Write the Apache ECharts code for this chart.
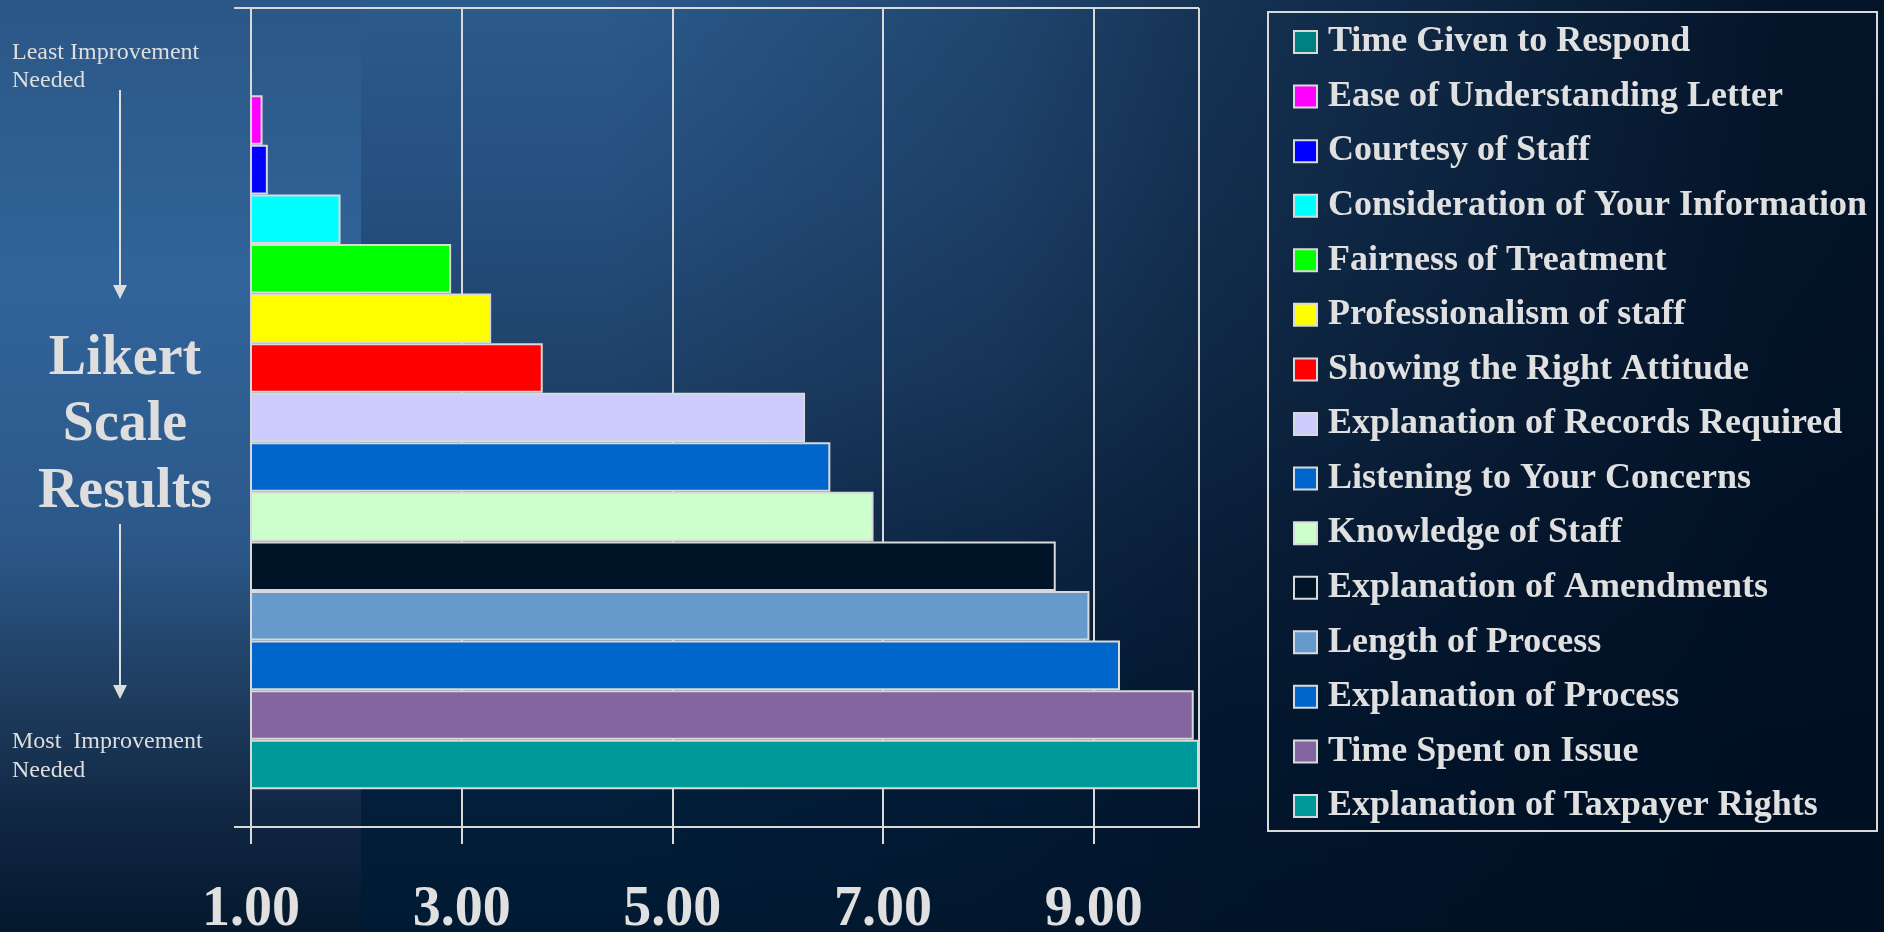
<!DOCTYPE html>
<html>
<head>
<meta charset="utf-8">
<title>Likert Scale Results</title>
<script src="https://cdn.jsdelivr.net/npm/echarts@6/dist/echarts.min.js"></script>
<style>
  html, body { margin: 0; padding: 0; width: 1884px; height: 932px; overflow: hidden; }
  #bg {
    position: absolute; left: 0; top: 0; width: 1884px; height: 932px;
    background:
      linear-gradient(90deg, rgba(0,14,32,0) 0%, rgba(0,14,32,0) 32%, rgba(0,14,32,0.26) 53%, rgba(0,14,32,0.51) 64%, rgba(0,14,32,0.9) 94%, rgba(0,14,32,0.92) 100%),
      linear-gradient(180deg, #2b5a8b 0%, #26507f 20%, #1e426a 40%, #112d4f 60%, #03203d 80%, #011a33 100%);
  }
  #panel {
    position: absolute; left: 0; top: 0; width: 361px; height: 932px;
    background: linear-gradient(180deg, #2b5786 0%, #31649a 30%, #2c5889 58%, #1e3c5e 75%, #0f2540 89%, #04182e 100%);
  }
  #chart { position: absolute; left: 0; top: 0; width: 1884px; height: 932px; }
</style>
</head>
<body>
<div id="bg"></div>
<div id="panel"></div>
<div id="chart"></div>
<script>
// Survey items, listed from least to most improvement needed
const categories = [
  'Time Given to Respond',
  'Ease of Understanding Letter',
  'Courtesy of Staff',
  'Consideration of Your Information',
  'Fairness of Treatment',
  'Professionalism of staff',
  'Showing the Right Attitude',
  'Explanation of Records Required',
  'Listening to Your Concerns',
  'Knowledge of Staff',
  'Explanation of Amendments',
  'Length of Process',
  'Explanation of Process',
  'Time Spent on Issue',
  'Explanation of Taxpayer Rights'
];

// Likert scale score for each item
const scores = [1.00, 1.11, 1.16, 1.85, 2.90, 3.28, 3.77, 6.26, 6.50, 6.91, 8.64, 8.96, 9.25, 9.95, 10.00];

const barColors = [
  '#008080', '#ff00ff', '#0000ff', '#00ffff', '#00ff00',
  '#ffff00', '#ff0000', '#ccccff', '#0066cc', '#ccffcc',
  '#001428', '#6699cc', '#0066cc', '#8465a0', '#009999'
];

const xTickValues = [1, 3, 5, 7, 9];
const xTickLabels = ['1.00', '3.00', '5.00', '7.00', '9.00'];

const lineColor = '#d9d9d9';
const textColor = '#e0e0e0';
const serif = '"Liberation Serif", "Times New Roman", serif';

const chart = echarts.init(document.getElementById('chart'), null, { renderer: 'canvas' });

const series = categories.map((name, i) => ({
  name: name,
  type: 'bar',
  data: [scores[i]],
  barGap: '0%',
  barCategoryGap: '9.2%',
  silent: true,
  itemStyle: { color: barColors[i], borderColor: lineColor, borderWidth: 2 }
}));

function sideText(x, y, text, size, weight, align) {
  return {
    type: 'text', x: x, y: y, silent: true,
    style: {
      text: text, fill: '#dedede', fontFamily: serif, fontSize: size,
      fontWeight: weight, align: align, verticalAlign: 'middle'
    }
  };
}

function arrow(y1, y2) {
  return [
    { type: 'line', silent: true, shape: { x1: 120, y1: y1, x2: 120, y2: y2 - 13 },
      style: { stroke: '#dedede', lineWidth: 2 } },
    { type: 'polygon', silent: true, shape: { points: [[113, y2 - 14], [127, y2 - 14], [120, y2]] },
      style: { fill: '#dedede' } }
  ];
}

const option = {
  backgroundColor: 'transparent',
  animation: false,
  grid: { left: 251, top: 8, width: 948, height: 819, containLabel: false, outerBoundsMode: 'none' },
  xAxis: {
    type: 'value', min: 1, max: 10, interval: 2,
    axisLine: { show: true, lineStyle: { color: lineColor, width: 2 } },
    axisTick: { show: true, length: 17, lineStyle: { color: lineColor, width: 2 } },
    splitLine: { show: true, lineStyle: { color: lineColor, width: 2 } },
    axisLabel: {
      showMaxLabel: false,
      margin: 56,
      color: textColor, fontFamily: serif, fontWeight: 'bold', fontSize: 56,
      formatter: function (v) {
        const k = xTickValues.indexOf(v);
        return k >= 0 ? xTickLabels[k] : '';
      }
    }
  },
  yAxis: {
    type: 'category', data: [''],
    axisLine: { show: true, lineStyle: { color: lineColor, width: 2 } },
    axisTick: { show: true, length: 17, lineStyle: { color: lineColor, width: 2 } },
    splitLine: { show: true, lineStyle: { color: lineColor, width: 2 } },
    axisLabel: { show: false }
  },
  legend: {
    data: categories,
    orient: 'vertical',
    left: 1293, top: 22,
    padding: 0,
    icon: 'rect',
    itemWidth: 23, itemHeight: 22,
    itemGap: 14.57,
    selectedMode: false,
    textStyle: {
      color: textColor, fontFamily: serif, fontWeight: 'bold', fontSize: 36, lineHeight: 40,
      padding: [0, 0, 0, 6]
    }
  },
  graphic: [
    { type: 'rect', silent: true, shape: { x: 1268, y: 12, width: 609, height: 819 },
      style: { fill: 'none', stroke: lineColor, lineWidth: 2 } },
    sideText(12, 53, 'Least Improvement', 24, 'normal', 'left'),
    sideText(12, 81, 'Needed', 24, 'normal', 'left'),
    sideText(125, 360, 'Likert', 56, 'bold', 'center'),
    sideText(125, 426, 'Scale', 56, 'bold', 'center'),
    sideText(125, 493, 'Results', 56, 'bold', 'center'),
    sideText(12, 742, 'Most  Improvement', 24, 'normal', 'left'),
    sideText(12, 771, 'Needed', 24, 'normal', 'left')
  ].concat(arrow(90, 299), arrow(524, 699)),
  series: series
};

chart.setOption(option);
</script>
</body>
</html>
